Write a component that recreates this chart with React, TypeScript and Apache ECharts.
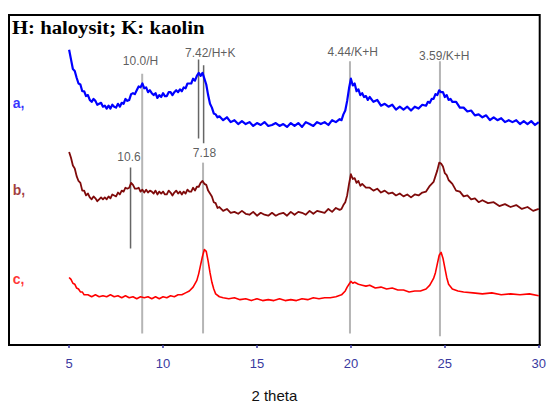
import React, { useEffect, useRef } from "react";
import * as echarts from "echarts";

// 2θ (degrees) vs. intensity (arbitrary units, curves stacked with offsets)
const curveA: number[][] = [
  [5.0,306],[5.1,296],[5.2,286],[5.3,284],[5.4,277],[5.5,271],[5.6,270],[5.7,263],[5.8,263],[5.9,258],
  [6.0,259],[6.1,254],[6.2,252],[6.3,255],[6.4,253],[6.5,249],[6.6,250],[6.7,251],[6.8,247],[6.9,248],
  [7.0,245],[7.1,248],[7.2,245],[7.3,249],[7.4,247],[7.5,246],[7.6,250],[7.7,247],[7.8,251],[7.9,250],
  [8.0,255],[8.1,253],[8.2,254],[8.3,260],[8.4,261],[8.5,260],[8.6,264],[8.7,268],[8.8,267],[8.9,271],
  [9.0,266],[9.1,267],[9.2,262],[9.3,264],[9.4,261],[9.5,259],[9.6,261],[9.7,256],[9.8,259],[9.9,257],
  [10.0,261],[10.1,258],[10.2,258],[10.3,262],[10.4,262],[10.5,259],[10.6,262],[10.7,264],[10.8,262],[10.9,265],
  [11.0,263],[11.1,267],[11.2,266],[11.3,271],[11.4,271],[11.5,271],[11.6,276],[11.7,274],[11.8,279],[11.9,282],
  [12.0,279],[12.1,282],[12.2,276],[12.3,270],[12.4,259],[12.5,250],[12.6,246],[12.7,240],[12.8,239],[12.9,236],
  [13.0,237],[13.2,233],[13.4,236],[13.6,231],[13.8,233],[14.0,229],[14.2,232],[14.4,229],[14.6,231],[14.8,227],
  [15.0,230],[15.2,228],[15.4,231],[15.6,227],[15.8,228],[16.0,230],[16.2,227],[16.4,229],[16.6,226],[16.8,230],
  [17.0,227],[17.2,230],[17.4,226],[17.6,231],[17.8,229],[18.0,227],[18.2,231],[18.4,229],[18.6,231],[18.8,228],
  [19.0,233],[19.2,231],[19.4,234],[19.5,233],[19.6,239],[19.7,243],[19.8,253],[19.9,266],[20.0,276],[20.1,269],
  [20.2,271],[20.3,263],[20.4,265],[20.5,259],[20.6,261],[20.7,257],[20.8,258],[20.9,254],[21.0,257],[21.2,252],
  [21.4,254],[21.6,248],[21.8,250],[22.0,247],[22.2,249],[22.4,244],[22.6,247],[22.8,244],[23.0,247],[23.2,243],
  [23.4,247],[23.6,245],[23.8,249],[24.0,248],[24.1,252],[24.2,251],[24.3,255],[24.4,255],[24.5,260],[24.6,259],
  [24.7,264],[24.8,262],[24.9,262],[25.0,257],[25.1,259],[25.2,254],[25.3,255],[25.4,252],[25.6,252],[25.8,246],
  [26.0,246],[26.2,242],[26.4,243],[26.6,238],[26.8,239],[27.0,236],[27.2,238],[27.4,233],[27.6,236],[27.8,233],
  [28.0,235],[28.2,231],[28.4,233],[28.6,231],[28.8,233],[29.0,229],[29.2,232],[29.4,229],[29.6,232],[29.8,228],
  [30.0,231],
];

const curveB: number[][] = [
  [5.0,200],[5.1,194],[5.2,186],[5.3,183],[5.4,175],[5.5,170],[5.6,168],[5.7,160],[5.8,160],[5.9,155],
  [6.0,157],[6.1,153],[6.2,151],[6.3,154],[6.4,152],[6.5,149],[6.6,151],[6.7,153],[6.8,151],[6.9,153],
  [7.0,151],[7.1,154],[7.2,152],[7.3,156],[7.4,155],[7.5,154],[7.6,158],[7.7,156],[7.8,160],[7.9,159],
  [8.0,163],[8.1,162],[8.2,163],[8.3,168],[8.4,166],[8.5,162],[8.6,162],[8.7,163],[8.8,159],[8.9,161],
  [9.0,158],[9.1,161],[9.2,158],[9.3,160],[9.4,159],[9.5,157],[9.6,160],[9.7,156],[9.8,159],[9.9,157],
  [10.0,159],[10.1,156],[10.2,156],[10.3,160],[10.4,158],[10.5,155],[10.6,158],[10.7,160],[10.8,157],[10.9,159],
  [11.0,156],[11.1,159],[11.2,157],[11.3,161],[11.4,159],[11.5,159],[11.6,163],[11.7,160],[11.8,164],[11.9,164],
  [12.0,168],[12.1,170],[12.2,167],[12.3,166],[12.4,160],[12.5,157],[12.6,154],[12.7,148],[12.8,147],[12.9,142],
  [13.0,143],[13.2,139],[13.4,141],[13.6,137],[13.8,138],[14.0,136],[14.2,139],[14.4,136],[14.6,135],[14.8,138],
  [15.0,134],[15.2,137],[15.4,135],[15.6,134],[15.8,137],[16.0,134],[16.2,136],[16.4,137],[16.6,134],[16.8,138],
  [17.0,135],[17.2,138],[17.4,137],[17.6,135],[17.8,139],[18.0,136],[18.2,139],[18.4,138],[18.6,137],[18.8,141],
  [19.0,138],[19.2,142],[19.4,140],[19.5,141],[19.6,145],[19.7,148],[19.8,155],[19.9,167],[20.0,177],[20.1,172],
  [20.2,173],[20.3,168],[20.4,170],[20.5,165],[20.6,167],[20.8,163],[21.0,163],[21.2,160],[21.4,162],[21.6,158],
  [21.8,160],[22.0,157],[22.2,158],[22.4,155],[22.6,157],[22.8,154],[23.0,156],[23.2,153],[23.4,156],[23.6,155],
  [23.8,158],[24.0,159],[24.2,165],[24.4,169],[24.5,175],[24.6,181],[24.7,189],[24.8,188],[24.9,185],[25.0,178],
  [25.1,176],[25.2,171],[25.4,167],[25.6,160],[25.8,159],[26.0,154],[26.2,155],[26.4,151],[26.6,152],[26.8,148],
  [27.0,150],[27.3,147],[27.6,148],[27.9,144],[28.2,146],[28.5,143],[28.8,145],[29.1,141],[29.4,143],[29.7,139],
  [30.0,141],
];

const curveC: number[][] = [
  [5.0,70],[5.1,68],[5.2,64],[5.3,63],[5.4,59],[5.5,58],[5.6,55],[5.7,55],[5.8,52],[6.0,52],
  [6.2,50],[6.4,52],[6.6,50],[6.8,51],[7.0,50],[7.2,52],[7.4,50],[7.6,51],[7.8,49],[8.0,51],
  [8.2,49],[8.4,50],[8.6,48],[8.8,50],[9.0,49],[9.2,50],[9.4,48],[9.6,50],[9.8,48],[10.0,50],
  [10.2,49],[10.4,51],[10.6,50],[10.8,52],[11.0,52],[11.2,54],[11.4,56],[11.6,60],[11.8,67],[11.9,74],
  [12.0,83],[12.1,92],[12.2,99],[12.3,97],[12.4,87],[12.5,75],[12.6,65],[12.7,58],[12.8,53],[13.0,50],
  [13.2,49],[13.5,48],[13.8,49],[14.1,47],[14.4,48],[14.7,46],[15.0,48],[15.3,46],[15.6,47],[15.9,46],
  [16.2,48],[16.5,46],[16.8,47],[17.1,46],[17.4,48],[17.7,47],[18.0,49],[18.3,48],[18.6,49],[18.9,49],
  [19.2,50],[19.5,52],[19.7,56],[19.8,60],[19.9,63],[20.0,66],[20.1,64],[20.2,65],[20.4,63],[20.6,62],
  [20.8,61],[21.0,62],[21.3,59],[21.6,60],[21.9,58],[22.2,59],[22.5,57],[22.8,57],[23.1,55],[23.4,56],
  [23.7,56],[24.0,58],[24.2,62],[24.4,69],[24.5,75],[24.6,84],[24.7,93],[24.8,96],[24.9,90],[25.0,80],
  [25.1,70],[25.2,63],[25.4,58],[25.7,56],[26.0,55],[26.5,54],[27.0,53],[27.5,54],[28.0,52],[28.5,53],
  [29.0,52],[29.5,53],[30.0,51],
];

// reference lines: [2θ, bottom, top]
const lightLines: number[][] = [
  [8.89, 12, 281],
  [12.13, 12, 189],
  [19.95, 12, 294],
  [24.74, 9, 294],
];
const darkLines: number[][] = [
  [11.89, 214, 296],
  [12.16, 209, 290],
  [8.27, 100, 184],
];

const peakLabels: { text: string; x: number; y: number }[] = [
  { text: "10.0/H", x: 8.8, y: 294 },
  { text: "7.42/H+K", x: 12.51, y: 303 },
  { text: "7.18", x: 12.2, y: 199 },
  { text: "10.6", x: 8.19, y: 195 },
  { text: "4.44/K+H", x: 20.1, y: 304 },
  { text: "3.59/K+H", x: 24.97, y: 300 },
];

const sampleLabels: { text: string; x: number; y: number; color: string }[] = [
  { text: "a,", x: 2.0, y: 251, color: "#0000ff" },
  { text: "b,", x: 2.0, y: 161, color: "#8b0a0a" },
  { text: "c,", x: 2.0, y: 68, color: "#ff0000" },
];

const xTicks = [5, 10, 15, 20, 25, 30];
const titleText = "H: haloysit; K: kaolin";

export default function App() {
  const ref = useRef<HTMLDivElement>(null);
  useEffect(() => {
    if (!ref.current) return;
    const chart = echarts.init(ref.current, undefined, { renderer: "svg" });
    const vline = (l: number[], color: string, width: number) => ({
      type: "line",
      data: [[l[0], l[1]], [l[0], l[2]]],
      symbol: "none",
      silent: true,
      z: 1,
      lineStyle: { color, width },
    });
    const curve = (data: number[][], color: string, width: number) => ({
      type: "line",
      data,
      symbol: "none",
      showSymbol: false,
      z: 3,
      lineStyle: { color, width, join: "round" },
    });
    chart.setOption({
      animation: false,
      graphic: [
        {
          type: "text",
          x: 12,
          y: 18,
          scaleX: 1.09,
          z: 10,
          style: {
            text: titleText,
            fill: "#000",
            font: 'bold 19px "Liberation Serif"',
            verticalAlign: "top",
          },
        },
      ],
      grid: {
        left: 9,
        right: 7,
        top: 15,
        bottom: 51,
        show: true,
        borderColor: "#000",
        borderWidth: 2,
        backgroundColor: "#fff",
      },
      xAxis: {
        type: "value",
        min: 1.8,
        max: 30.05,
        name: "2 theta",
        nameLocation: "middle",
        nameGap: 43,
        nameTextStyle: { fontFamily: "Liberation Sans", fontSize: 15, color: "#111" },
        splitLine: { show: false },
        axisLine: { show: true, lineStyle: { color: "#000", width: 2 } },
        axisTick: {
          show: true,
          customValues: xTicks,
          length: 3,
          lineStyle: { color: "#3a3aa0", width: 1.5 },
        },
        axisLabel: {
          customValues: xTicks,
          margin: 12,
          fontFamily: "Liberation Sans",
          fontSize: 13,
          color: "#3a3aa0",
        },
      },
      yAxis: {
        type: "value",
        min: 0,
        max: 342,
        show: false,
        splitLine: { show: false },
      },
      series: [
        ...lightLines.map((l) => vline(l, "#b5b5b5", 2)),
        ...darkLines.map((l) => vline(l, "#666", 1.5)),
        curve(curveA, "#0000ff", 2.2),
        curve(curveB, "#7f0a0a", 1.8),
        curve(curveC, "#ff0000", 1.6),
        {
          type: "scatter",
          symbolSize: 0,
          silent: true,
          z: 5,
          data: peakLabels.map((p) => ({ value: [p.x, p.y], name: p.text })),
          label: {
            show: true,
            position: "inside",
            formatter: "{b}",
            fontFamily: "Liberation Sans",
            fontSize: 12,
            color: "#333",
          },
        },
        {
          type: "scatter",
          symbolSize: 0,
          silent: true,
          z: 5,
          data: sampleLabels.map((p) => ({
            value: [p.x, p.y],
            name: p.text,
            label: { color: p.color },
          })),
          label: {
            show: true,
            position: "inside",
            align: "left",
            formatter: "{b}",
            fontFamily: "Liberation Sans",
            fontWeight: "bold",
            fontSize: 14,
          },
        },
      ],
    });
    return () => chart.dispose();
  }, []);
  return (
    <div
      ref={ref}
      style={{ position: "absolute", left: 0, top: 0, width: 549, height: 408 }}
    />
  );
}
